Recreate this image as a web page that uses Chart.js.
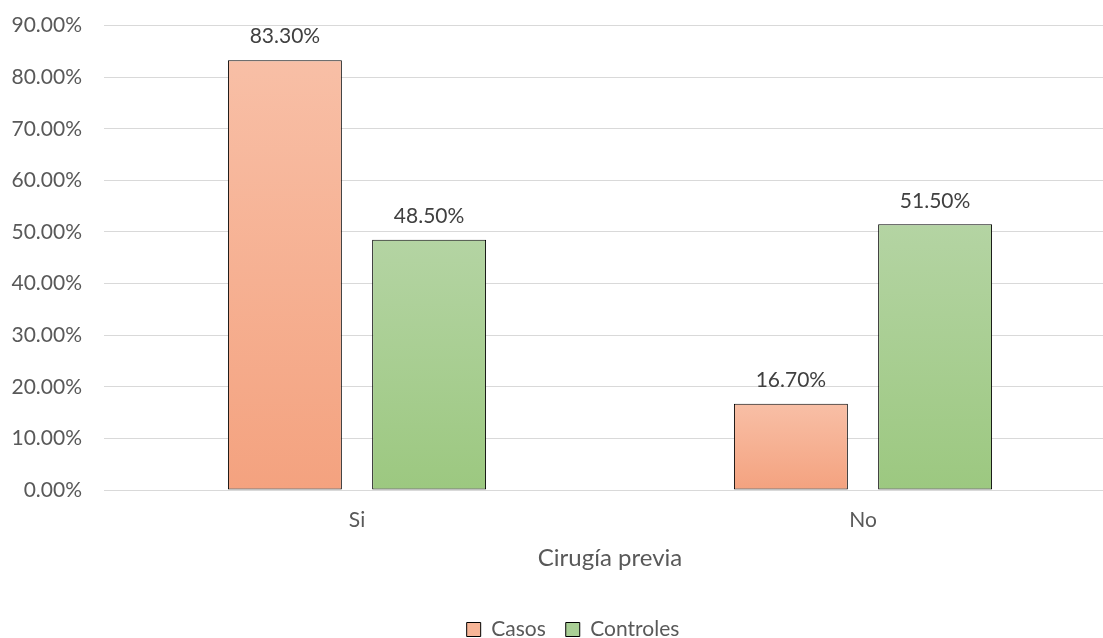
<!DOCTYPE html>
<html lang="es">
<head>
    <meta charset="UTF-8">
    <script src="https://cdn.jsdelivr.net/npm/chart.js"></script>
    <title>Cirugía previa</title>
    <style>
        html, body { margin: 0; padding: 0; background: #fff; overflow: hidden; }
        .chart-container { width: 1146px; height: 638px; }
    </style>
</head>
<body>
<div class="chart-container">
    <canvas id="myChart"></canvas>
</div>
<script>
var categorias = ['Si', 'No'];
var casos = [83.3, 16.7];
var controles = [48.5, 51.5];
var nombresSeries = ['Casos', 'Controles'];
var ticksY = [0, 10, 20, 30, 40, 50, 60, 70, 80, 90];

var fuente = 'Lato, "Open Sans", sans-serif';
var gris = '#595959';

function degradado(arriba, abajo) {
    return function (context) {
        var chart = context.chart;
        var area = chart.chartArea;
        if (!area || context.raw === undefined) return abajo;
        var y = chart.scales.y;
        var top = y.getPixelForValue(context.raw);
        var bottom = y.getPixelForValue(0);
        if (bottom - top < 1) return abajo;
        var g = chart.ctx.createLinearGradient(0, top, 0, bottom);
        g.addColorStop(0, arriba);
        g.addColorStop(1, abajo);
        return g;
    };
}

// etiquetas encima de cada barra
var etiquetas = {
    id: 'etiquetas',
    afterDatasetsDraw: function (chart) {
        var ctx = chart.ctx;
        ctx.save();
        ctx.font = '21px ' + fuente;
        ctx.fillStyle = '#404040';
        ctx.textAlign = 'center';
        ctx.textBaseline = 'bottom';
        chart.data.datasets.forEach(function (ds, i) {
            chart.getDatasetMeta(i).data.forEach(function (bar, j) {
                ctx.fillText(ds.data[j].toFixed(2) + '%', bar.x, bar.y - 13);
            });
        });
        ctx.restore();
    }
};

var ctx = document.getElementById('myChart').getContext('2d');
var myChart = new Chart(ctx, {
    type: 'bar',
    data: {
        labels: categorias,
        datasets: [
            {
                label: nombresSeries[0],
                data: casos,
                backgroundColor: degradado('#F8BFA6', '#F4A27F'),
                borderColor: '#000',
                borderWidth: 1,
                borderSkipped: false,
                categoryPercentage: 0.57,
                barPercentage: 0.79
            },
            {
                label: nombresSeries[1],
                data: controles,
                backgroundColor: degradado('#B4D4A3', '#9CC880'),
                borderColor: '#000',
                borderWidth: 1,
                borderSkipped: false,
                categoryPercentage: 0.57,
                barPercentage: 0.79
            }
        ]
    },
    options: {
        responsive: true,
        maintainAspectRatio: false,
        animation: false,
        layout: { padding: { left: 10, right: 10, top: 0, bottom: -12 } },
        scales: {
            x: {
                grid: { display: false },
                border: { color: '#d9d9d9' },
                ticks: { color: gris, font: { family: fuente, size: 21 }, padding: 10 },
                title: {
                    display: true,
                    text: 'Cirugía previa',
                    color: gris,
                    font: { family: fuente, size: 24 },
                    padding: { top: 1, bottom: 26 }
                }
            },
            y: {
                min: 0,
                max: 90,
                afterBuildTicks: function (axis) {
                    axis.ticks = ticksY.map(function (v) { return { value: v }; });
                },
                afterFit: function (axis) {
                    axis.width = 94;
                },
                grid: { color: '#d9d9d9', lineWidth: 1, drawTicks: true, tickLength: 9, tickColor: 'rgba(0,0,0,0)' },
                border: { display: false },
                ticks: {
                    color: gris,
                    padding: 13,
                    font: { family: fuente, size: 21 },
                    callback: function (v) { return v.toFixed(2) + '%'; }
                }
            },
            // eje vacío a la derecha: deja sitio para centrar la leyenda como en el original
            derecha: {
                type: 'linear',
                position: 'right',
                display: true,
                grid: { display: false },
                border: { display: false },
                ticks: { display: false },
                afterFit: function (axis) {
                    axis.width = 20;
                }
            }
        },
        plugins: {
            tooltip: { enabled: false },
            legend: {
                position: 'bottom',
                labels: {
                    color: gris,
                    font: { family: fuente, size: 21 },
                    boxWidth: 14,
                    boxHeight: 14,
                    padding: 20,
                    generateLabels: function (chart) {
                        var colores = ['#F7B597', '#A9CF95'];
                        return chart.data.datasets.map(function (ds, i) {
                            return {
                                text: ds.label,
                                fillStyle: colores[i],
                                strokeStyle: '#000',
                                lineWidth: 1,
                                fontColor: gris,
                                datasetIndex: i
                            };
                        });
                    }
                }
            }
        }
    },
    plugins: [etiquetas]
});
</script>
</body>
</html>
